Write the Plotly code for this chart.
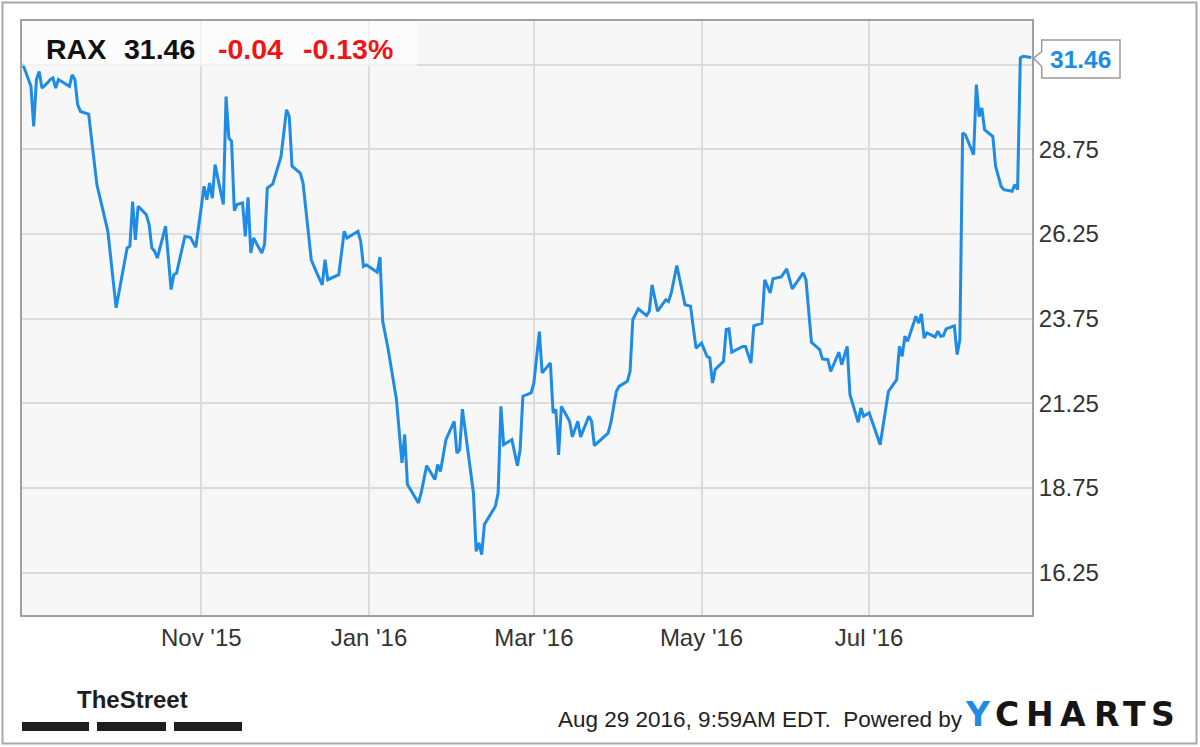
import plotly.graph_objects as go

# ---------------- data ----------------
ticker = "RAX"
change = "-0.04"
change_pct = "-0.13%"
timestamp = "Aug 29 2016, 9:59AM EDT."

dates = [
    "2015-08-28", "2015-08-31", "2015-09-01", "2015-09-02", "2015-09-03", "2015-09-04",
    "2015-09-06", "2015-09-07", "2015-09-08", "2015-09-09", "2015-09-10", "2015-09-12",
    "2015-09-14", "2015-09-15", "2015-09-16", "2015-09-17", "2015-09-18", "2015-09-21",
    "2015-09-24", "2015-09-28", "2015-10-01", "2015-10-05", "2015-10-06", "2015-10-07",
    "2015-10-08", "2015-10-09", "2015-10-12", "2015-10-13", "2015-10-14", "2015-10-15",
    "2015-10-16", "2015-10-19", "2015-10-21", "2015-10-22", "2015-10-23", "2015-10-26",
    "2015-10-28", "2015-10-30", "2015-11-02", "2015-11-03", "2015-11-04", "2015-11-05",
    "2015-11-06", "2015-11-08", "2015-11-09", "2015-11-10", "2015-11-11", "2015-11-12",
    "2015-11-13", "2015-11-14", "2015-11-16", "2015-11-17", "2015-11-18", "2015-11-19",
    "2015-11-20", "2015-11-21", "2015-11-23", "2015-11-24", "2015-11-25", "2015-11-27",
    "2015-11-30", "2015-12-02", "2015-12-03", "2015-12-04", "2015-12-07", "2015-12-08",
    "2015-12-11", "2015-12-13", "2015-12-15", "2015-12-16", "2015-12-17", "2015-12-21",
    "2015-12-23", "2015-12-24", "2015-12-28", "2015-12-29", "2015-12-30", "2015-12-31",
    "2016-01-04", "2016-01-05", "2016-01-06", "2016-01-08", "2016-01-11", "2016-01-13",
    "2016-01-14", "2016-01-15", "2016-01-19", "2016-01-20", "2016-01-22", "2016-01-25",
    "2016-01-26", "2016-01-27", "2016-01-29", "2016-02-01", "2016-02-02", "2016-02-03",
    "2016-02-04", "2016-02-08", "2016-02-09", "2016-02-10", "2016-02-11", "2016-02-12",
    "2016-02-16", "2016-02-17", "2016-02-18", "2016-02-19", "2016-02-22", "2016-02-24",
    "2016-02-25", "2016-02-26", "2016-02-29", "2016-03-01", "2016-03-03", "2016-03-04",
    "2016-03-07", "2016-03-08", "2016-03-09", "2016-03-10", "2016-03-11", "2016-03-14",
    "2016-03-15", "2016-03-17", "2016-03-18", "2016-03-21", "2016-03-22", "2016-03-23",
    "2016-03-28", "2016-03-29", "2016-03-31", "2016-04-01", "2016-04-04", "2016-04-05",
    "2016-04-06", "2016-04-08", "2016-04-11", "2016-04-12", "2016-04-13", "2016-04-15",
    "2016-04-18", "2016-04-19", "2016-04-20", "2016-04-22", "2016-04-25", "2016-04-27",
    "2016-04-29", "2016-05-01", "2016-05-03", "2016-05-04", "2016-05-05", "2016-05-06",
    "2016-05-09", "2016-05-10", "2016-05-11", "2016-05-12", "2016-05-16", "2016-05-17",
    "2016-05-19", "2016-05-20", "2016-05-23", "2016-05-24", "2016-05-26", "2016-05-27",
    "2016-05-30", "2016-06-01", "2016-06-03", "2016-06-07", "2016-06-08", "2016-06-10",
    "2016-06-13", "2016-06-14", "2016-06-16", "2016-06-17", "2016-06-20", "2016-06-21",
    "2016-06-23", "2016-06-24", "2016-06-27", "2016-06-28", "2016-06-29", "2016-07-01",
    "2016-07-05", "2016-07-08", "2016-07-11", "2016-07-12", "2016-07-13", "2016-07-14",
    "2016-07-15", "2016-07-18", "2016-07-19", "2016-07-20", "2016-07-21", "2016-07-22",
    "2016-07-25", "2016-07-26", "2016-07-27", "2016-07-28", "2016-07-29", "2016-08-01",
    "2016-08-02", "2016-08-03", "2016-08-04", "2016-08-05", "2016-08-08", "2016-08-09",
    "2016-08-10", "2016-08-11", "2016-08-12", "2016-08-15", "2016-08-16", "2016-08-18",
    "2016-08-19", "2016-08-22", "2016-08-23", "2016-08-24", "2016-08-25", "2016-08-26",
    "2016-08-29",
]

prices = [
    31.28, 30.61, 29.43, 30.81, 31.05, 30.56,
    30.71, 30.81, 30.86, 30.56, 30.81, 30.71,
    30.61, 30.95, 30.81, 30.07, 29.87, 29.79,
    27.71, 26.33, 24.07, 25.84, 25.89, 27.21,
    26.08, 27.07, 26.82, 26.53, 25.84, 25.74,
    25.54, 26.48, 24.61, 25.05, 25.10, 26.18,
    26.15, 25.86, 27.66, 27.26, 27.76, 27.31,
    28.30, 27.51, 27.12, 30.31, 29.09, 28.99,
    26.94, 27.12, 27.17, 26.18, 27.33, 25.69,
    26.13, 25.98, 25.69, 25.94, 27.61, 27.73,
    28.54, 29.92, 29.72, 28.25, 28.05, 27.76,
    25.49, 25.10, 24.75, 25.49, 24.90, 25.05,
    26.33, 26.13, 26.33, 26.03, 25.29, 25.34,
    25.12, 25.57, 23.67, 22.84, 21.36, 19.49,
    20.33, 18.85, 18.31, 18.61, 19.41, 19.00,
    19.44, 19.24, 20.18, 20.72, 19.78, 19.88,
    21.08, 18.61, 16.88, 17.13, 16.78, 17.67,
    18.21, 18.61, 21.16, 20.03, 20.18, 19.41,
    19.88, 21.46, 21.56, 21.85, 23.37, 22.15,
    22.44, 20.97, 21.07, 19.73, 21.16, 20.72,
    20.26, 20.72, 20.26, 20.87, 20.72, 20.00,
    20.37, 20.67, 21.60, 21.75, 21.90, 22.19,
    23.72, 24.04, 23.84, 23.97, 24.75, 23.97,
    24.31, 24.26, 24.51, 25.32, 24.16, 24.12,
    22.88, 23.03, 22.64, 22.59, 21.85, 22.25,
    22.49, 23.43, 23.45, 22.76, 22.93, 22.93,
    22.44, 23.54, 23.62, 24.90, 24.51, 24.93,
    24.98, 25.22, 24.63, 25.10, 24.90, 23.05,
    22.84, 22.56, 22.54, 22.19, 22.76, 22.39,
    22.93, 21.51, 20.69, 21.11, 20.87, 20.97,
    20.03, 21.60, 21.95, 22.93, 22.64, 23.23,
    23.08, 23.82, 23.62, 23.89, 23.18, 23.33,
    23.21, 23.38, 23.23, 23.25, 23.45, 23.54,
    22.69, 23.13, 29.23, 29.18, 28.59, 30.66,
    29.72, 29.97, 29.33, 29.13, 28.25, 27.66,
    27.56, 27.51, 27.71, 27.56, 31.45, 31.50,
    31.46,
]

x_tick_vals = ["2015-11-01", "2016-01-01", "2016-03-01", "2016-05-01", "2016-07-01"]
x_tick_text = ["Nov '15", "Jan '16", "Mar '16", "May '16", "Jul '16"]
y_tick_vals = [16.25, 18.75, 21.25, 23.75, 26.25, 28.75, 31.25]
y_tick_text = ["16.25", "18.75", "21.25", "23.75", "26.25", "28.75", ""]

# ---------------- layout helpers ----------------
W, H = 1200, 747
L, R, T, B = 22, 168, 21, 132
PW, PH = W - L - R, H - T - B
FONT = "Liberation Sans, Arial, Helvetica, sans-serif"
BLUE = "#1e8ce6"
RED = "#f01414"


def fx(px):
    return (px - L) / PW


def fy(py):
    return (H - B - py) / PH


last = prices[-1]

fig = go.Figure(
    go.Scatter(
        x=dates, y=prices, mode="lines",
        line=dict(color=BLUE, width=3), hoverinfo="skip",
    )
)

shapes = []
# header translucent box over plot
shapes.append(dict(type="rect", xref="paper", yref="paper",
                   x0=fx(22), x1=fx(417), y0=fy(66), y1=fy(21),
                   fillcolor="rgba(255,255,255,0.62)", line=dict(width=0), layer="above"))
# callout with pointer
bx0, bx1, by0, by1 = 1041.7, 1120, 40, 78
path = (f"M {fx(bx0)},{fy(by0)} L {fx(bx1)},{fy(by0)} L {fx(bx1)},{fy(by1)} "
        f"L {fx(bx0)},{fy(by1)} L {fx(bx0)},{fy(66.5)} L {fx(1033.5)},{fy(58.3)} "
        f"L {fx(bx0)},{fy(51.5)} Z")
shapes.append(dict(type="path", xref="paper", yref="paper", path=path,
                   fillcolor="white", line=dict(color="#9a9a9a", width=1.5), layer="above"))
# outer frame
shapes.append(dict(type="rect", xref="paper", yref="paper",
                   x0=fx(2.5), x1=fx(1196.5), y0=fy(743.5), y1=fy(2.5),
                   line=dict(color="#a8a8a8", width=2), fillcolor="rgba(0,0,0,0)"))
# TheStreet bars
for a, b in [(22, 89), (97, 166), (174, 242)]:
    shapes.append(dict(type="rect", xref="paper", yref="paper",
                       x0=fx(a), x1=fx(b), y0=fy(731), y1=fy(722),
                       fillcolor="#1e1e1e", line=dict(width=0)))

annotations = []


def txt(text, x, y, size, color, anchor="left", bold=False, family=FONT):
    annotations.append(dict(
        text=f"<b>{text}</b>" if bold else text,
        xref="paper", yref="paper", x=fx(x), y=fy(y),
        xanchor=anchor, yanchor="middle", showarrow=False,
        font=dict(family=family, size=size, color=color),
    ))


# header
txt(ticker, 44, 49, 28.5, "#111111", bold=True)
txt(f"{last:.2f}", 122, 49, 28.5, "#111111", bold=True)
txt(change, 216, 49, 28.5, RED, bold=True)
txt(change_pct, 301, 49, 28.5, RED, bold=True)
# callout value
txt(f"{last:.2f}", (bx0 + bx1) / 2, 59, 24.5, BLUE, anchor="center", bold=True)
# footer
txt("TheStreet", 132, 699, 24, "#1e1e1e", anchor="center", bold=True)
txt(timestamp + "\u00a0 Powered by", 556, 719, 22.5, "#222222")
for ch, cx, col in [("Y", 978, BLUE), ("C", 1006.5, "#151515"), ("H", 1040, "#151515"),
                    ("A", 1073, "#151515"), ("R", 1106.4, "#151515"),
                    ("T", 1134.4, "#151515"), ("S", 1163.4, "#151515")]:
    txt(ch, cx, 714, 33, col, anchor="center", bold=True,
        family="DejaVu Sans, Liberation Sans, sans-serif")

fig.update_layout(
    width=W, height=H,
    margin=dict(l=L, r=R, t=T, b=B, pad=0),
    paper_bgcolor="white", plot_bgcolor="#f7f7f7",
    showlegend=False,
    font=dict(family=FONT, size=24, color="#333333"),
    shapes=shapes, annotations=annotations,
    xaxis=dict(
        type="date", range=["2015-08-27 18:00", "2016-08-29 06:00"],
        tickvals=x_tick_vals, ticktext=x_tick_text,
        showgrid=True, gridcolor="#dcdcdc", gridwidth=2,
        showline=True, mirror=True, linecolor="#a0a0a0", linewidth=2,
        ticks="", tickfont=dict(family=FONT, size=24, color="#333333"),
        zeroline=False, fixedrange=True,
    ),
    yaxis=dict(
        side="right", range=[15.0, 32.54],
        tickvals=y_tick_vals, ticktext=y_tick_text,
        showgrid=True, gridcolor="#dcdcdc", gridwidth=2,
        showline=True, mirror=True, linecolor="#a0a0a0", linewidth=2,
        ticks="", tickfont=dict(family=FONT, size=24, color="#333333"),
        zeroline=False, fixedrange=True,
    ),
)

fig.write_html("out.html", config={"displayModeBar": False},
               post_script="document.body.style.margin='0';")
